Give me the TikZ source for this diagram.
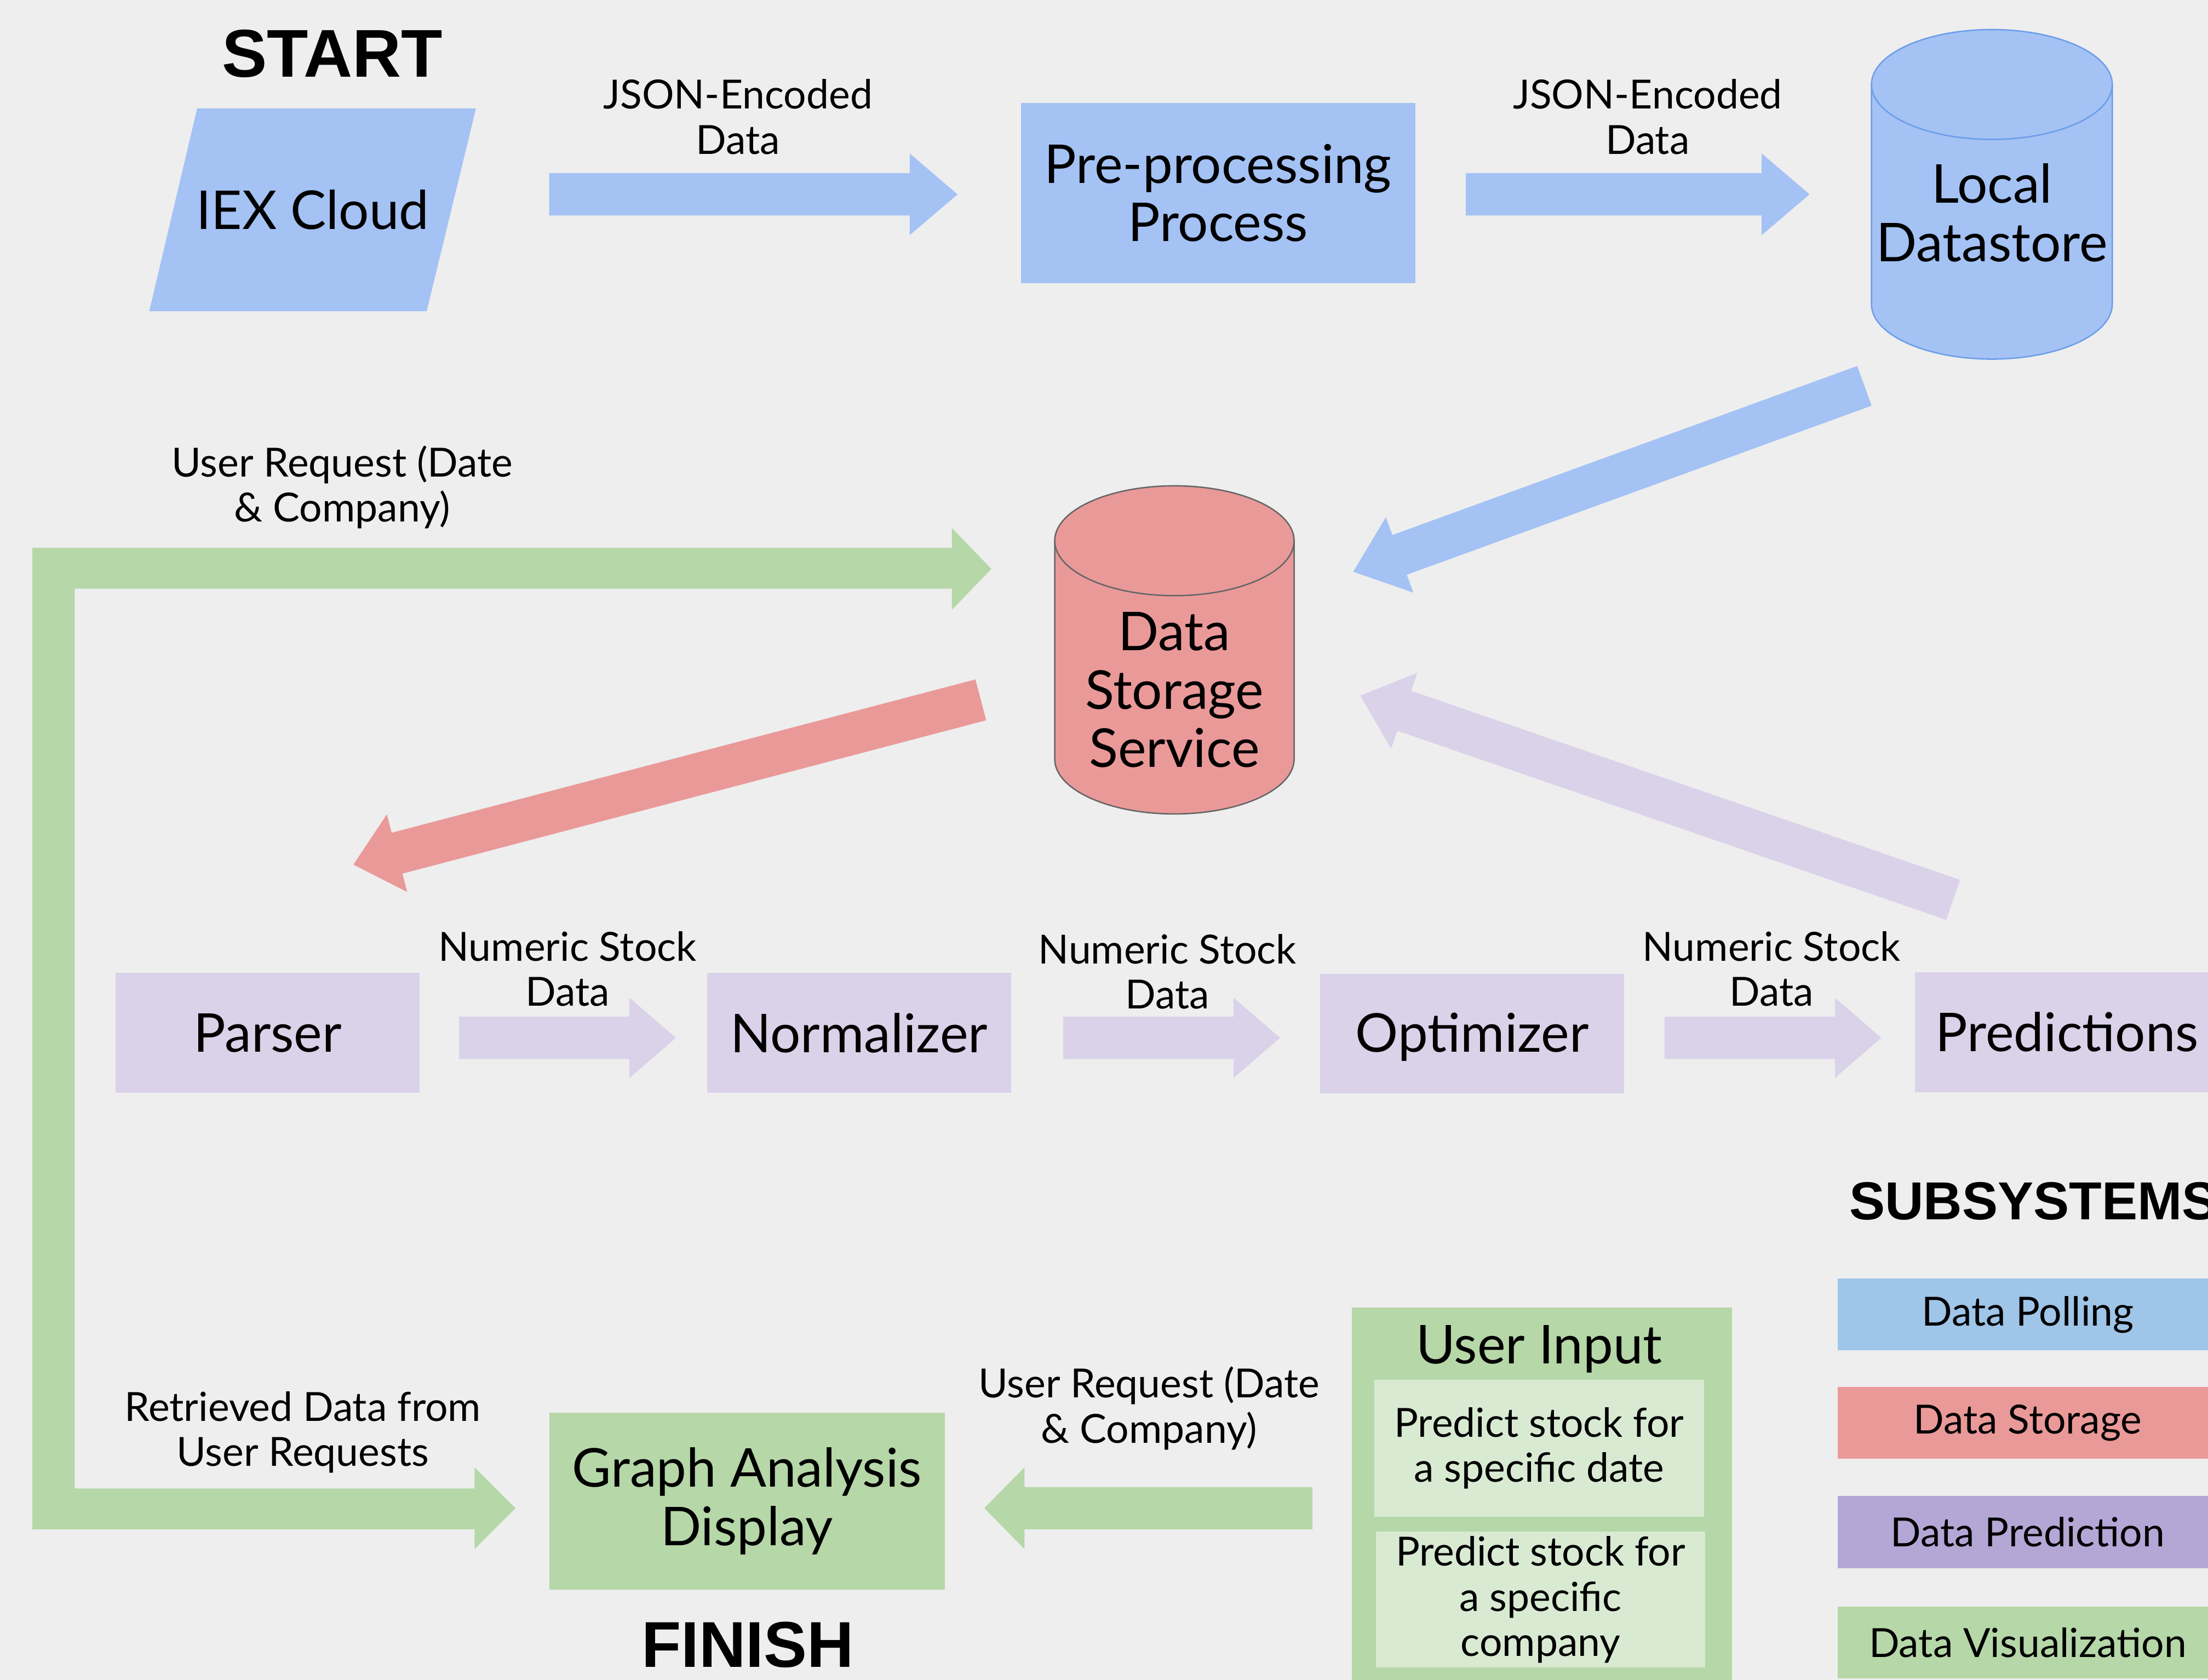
\documentclass[tikz,border=0pt]{standalone}
\usepackage{fontspec}
\setmainfont{Lato}
\newfontfamily\headfont{Liberation Sans}
\usetikzlibrary{calc}
\definecolor{bg}{HTML}{EEEEEE}
\definecolor{pblue}{HTML}{A4C2F4}
\definecolor{pbluedark}{HTML}{6D9EEB}
\definecolor{pred}{HTML}{EA9999}
\definecolor{predline}{HTML}{666666}
\definecolor{ppurple}{HTML}{D9D2E9}
\definecolor{pgreen}{HTML}{B6D7A8}
\definecolor{plgreen}{HTML}{D9EAD3}
\definecolor{lblue}{HTML}{9FC5E8}
\definecolor{lpurple}{HTML}{B4A7D6}
% fat block arrow: #1 tail coord, #2 tip coord, #3 colour, #4 head length, #5 head half width
\newcommand\fatarrow[5]{%
  \coordinate (hb) at ($(#2)!#4pt!(#1)$);
  \fill[#3] ($(#1)!15pt!90:(#2)$) -- ($(hb)!15pt!90:(#2)$) -- ($(hb)!#5pt!90:(#2)$) -- (#2)
     -- ($(hb)!#5pt!-90:(#2)$) -- ($(hb)!15pt!-90:(#2)$) -- ($(#1)!15pt!-90:(#2)$) -- cycle;
}
\begin{document}
\begin{tikzpicture}[x=1pt,y=-1pt,
  lbl/.style={font=\fontsize{28.5}{32}\selectfont, align=center, inner sep=0pt},
  big/.style={font=\fontsize{38}{41.5}\selectfont, align=center, inner sep=0pt},
  hd/.style={font=\headfont\bfseries\fontsize{48}{56}\selectfont, inner sep=0pt},
  sbox/.style={big, minimum width=216pt, minimum height=85pt},
  legbox/.style={lbl, minimum width=270pt, minimum height=51pt}]
\useasboundingbox (0,0) rectangle (1568,1193);
\clip (0,0) rectangle (1568,1193);
\fill[bg] (0,0) rectangle (1568,1193);

% ---------- top row ----------
\node[hd] (start) at (236,38) {START};
\fill[pblue] (140,77) -- (338,77) -- (303,221) -- (106,221) -- cycle;
\node[big] (iex) at (222,149) {IEX Cloud};

\node[big, fill=pblue, minimum width=280pt, minimum height=128pt] (pre) at (865,137) {Pre-processing\\Process};

\node[lbl] (j1) at (524,83) {JSON-Encoded\\Data};
\node[lbl] (j2) at (1170,83) {JSON-Encoded\\Data};

\coordinate (a1s) at (390,138); \coordinate (a1e) at (680,138);
\fatarrow{a1s}{a1e}{pblue}{34}{29}
\coordinate (a2s) at (1041,138); \coordinate (a2e) at (1285,138);
\fatarrow{a2s}{a2e}{pblue}{34}{29}

% Local datastore cylinder
\fill[pblue] (1329,60) -- (1329,216) .. controls (1329,237.5) and (1367.3,255) .. (1414.5,255)
  .. controls (1461.7,255) and (1500,237.5) .. (1500,216) -- (1500,60) -- cycle;
\draw[pbluedark, line width=1pt] (1329,60) -- (1329,216) .. controls (1329,237.5) and (1367.3,255) .. (1414.5,255)
  .. controls (1461.7,255) and (1500,237.5) .. (1500,216) -- (1500,60);
\filldraw[fill=pblue, draw=pbluedark, line width=1pt] (1414.5,60) ellipse [x radius=85.5, y radius=39];
\node[big] (local) at (1414.5,151) {Local\\Datastore};

% ---------- data storage ----------
\fill[pred] (749,384) -- (749,539) .. controls (749,560.5) and (787.1,578) .. (834,578)
  .. controls (880.9,578) and (919,560.5) .. (919,539) -- (919,384) -- cycle;
\draw[predline, line width=1pt] (749,384) -- (749,539) .. controls (749,560.5) and (787.1,578) .. (834,578)
  .. controls (880.9,578) and (919,560.5) .. (919,539) -- (919,384);
\filldraw[fill=pred, draw=predline, line width=1pt] (834,384) ellipse [x radius=85, y radius=39];
\node[big] (dss) at (834,490) {Data\\Storage\\Service};

\coordinate (a3s) at (1324,274); \coordinate (a3e) at (961,406);
\fatarrow{a3s}{a3e}{pblue}{35}{28.5}
\coordinate (a4s) at (696.5,497); \coordinate (a4e) at (251,614);
\fatarrow{a4s}{a4e}{pred}{32}{28.5}
\coordinate (a5s) at (1387,639); \coordinate (a5e) at (966,494);
\fatarrow{a5s}{a5e}{ppurple}{33}{28.5}

% ---------- green L connector ----------
\coordinate (gtop) at (704,404);
\coordinate (gbot) at (366,1071);
\fill[pgreen] (23,389) -- (676,389) -- (676,375) -- (gtop) -- (676,433) -- (676,418)
  -- (53,418) -- (53,1057) -- (337,1057) -- (337,1042) -- (gbot) -- (337,1100) -- (337,1086)
  -- (23,1086) -- cycle;
\node[lbl] (ur1) at (243,346) {User Request (Date\\\& Company)};
\node[lbl] (rd) at (215,1017) {Retrieved Data from\\User Requests};

% ---------- prediction row ----------
\node[sbox, fill=ppurple] (parser) at (190,733.5) {Parser};
\node[sbox, fill=ppurple] (norm) at (610,733.5) {Normalizer};
\node[sbox, fill=ppurple, text depth=0.21em] (opt) at (1045.5,734) {Optimizer};
\node[sbox, fill=ppurple] (pred) at (1468,733) {Predictions};

\coordinate (b1s) at (326,737); \coordinate (b1e) at (480,737);
\fatarrow{b1s}{b1e}{ppurple}{33}{28.5}
\coordinate (b2s) at (755,737); \coordinate (b2e) at (909,737);
\fatarrow{b2s}{b2e}{ppurple}{33}{28.5}
\coordinate (b3s) at (1182,737); \coordinate (b3e) at (1336,737);
\fatarrow{b3s}{b3e}{ppurple}{33}{28.5}
\node[lbl] (n1) at (403,688) {Numeric Stock\\Data};
\node[lbl] (n2) at (829,690) {Numeric Stock\\Data};
\node[lbl] (n3) at (1258,688) {Numeric Stock\\Data};

% ---------- bottom ----------
\node[big, fill=pgreen, minimum width=281pt, minimum height=126pt] (graph) at (530.5,1066) {Graph Analysis\\Display};
\node[hd, font=\headfont\bfseries\fontsize{46}{54}\selectfont] (finish) at (531,1168) {FINISH};

\coordinate (c1s) at (932,1071); \coordinate (c1e) at (699,1071);
\fatarrow{c1s}{c1e}{pgreen}{28.5}{29}
\node[lbl] (ur2) at (816,1000) {User Request (Date\\\& Company)};

\fill[pgreen] (960,928.5) rectangle (1230,1210);
\node[big] (uin) at (1093,958) {User Input};
\node[lbl, fill=plgreen, minimum width=234pt, minimum height=97pt] (ui1) at (1093,1028.5) {Predict stock for\\a specific date};
\node[lbl, fill=plgreen, minimum width=234pt, minimum height=96.5pt] (ui2) at (1094,1136) {Predict stock for\\a specific\\company};

% ---------- legend ----------
\node[hd, font=\headfont\bfseries\fontsize{38}{44}\selectfont, anchor=west] (sub) at (1313,853) {SUBSYSTEMS};
\node[legbox, fill=lblue] (lg1) at (1440,933.5) {Data Polling};
\node[legbox, fill=pred] (lg2) at (1440,1010.5) {Data Storage};
\node[legbox, fill=lpurple] (lg3) at (1440,1088) {Data Prediction};
\node[legbox, fill=pgreen] (lg4) at (1440,1166.5) {Data Visualization};
\end{tikzpicture}
\end{document}
